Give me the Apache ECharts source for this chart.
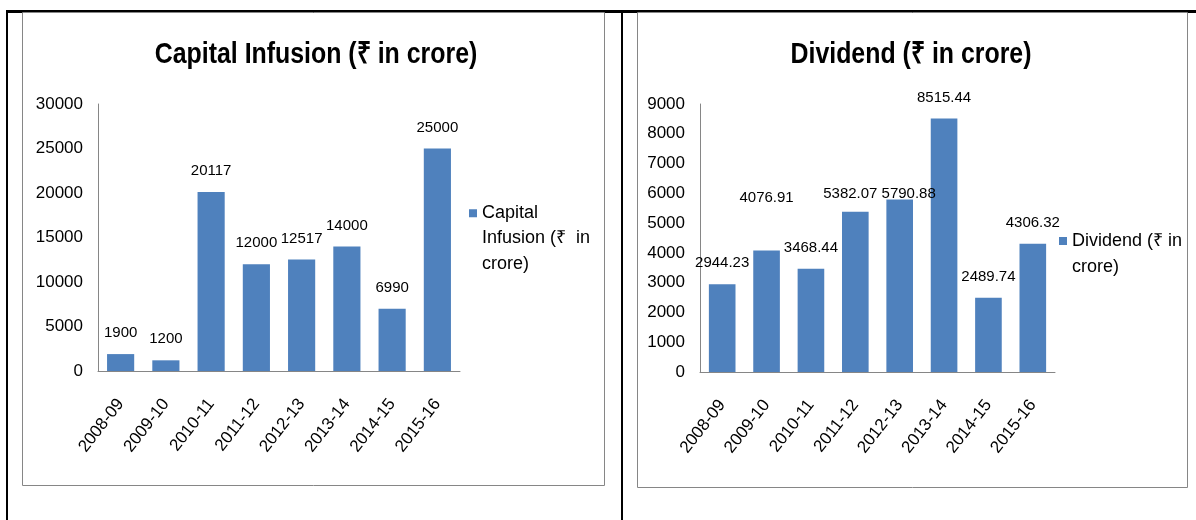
<!DOCTYPE html>
<html>
<head>
<meta charset="utf-8">
<script src="https://cdn.jsdelivr.net/npm/echarts@6/dist/echarts.min.js"></script>
<style>
    html, body { margin: 0; padding: 0; background: #fff; }
    #chart { width: 1196px; height: 520px; }
</style>
</head>
<body>
<div id="chart"></div>
<script>
// years shown on both charts
const years = ['2008-09', '2009-10', '2010-11', '2011-12', '2012-13', '2013-14', '2014-15', '2015-16'];

// capital infusion, rupees crore
const capitalInfusion = [1900, 1200, 20117, 12000, 12517, 14000, 6990, 25000];

// dividend, rupees crore
const dividend = [2944.23, 4076.91, 3468.44, 5382.07, 5790.88, 8515.44, 2489.74, 4306.32];

const capitalName = 'Capital Infusion (₹  in crore)';
const dividendName = 'Dividend (₹ in crore)';

const font = "'Liberation Sans', Arial, sans-serif";
const barColor = '#4f81bd';
const axisColor = '#868686';

// a few dividend labels were dragged around in the original sheet
const dividendLabelShift = [[0, 0], [0, -32], [0, 0], [-5, 3], [9, 15], [0, 0], [0, 0], [0, 0]];

const chart = echarts.init(document.getElementById('chart'));

function yAxisFor(gridIndex, max, interval) {
    return {
        type: 'value',
        gridIndex: gridIndex,
        min: 0,
        max: max,
        interval: interval,
        axisLine: { show: true, lineStyle: { color: axisColor, width: 1 } },
        axisTick: { show: false },
        splitLine: { show: false },
        axisLabel: {
            color: '#000',
            fontFamily: font,
            fontSize: 17,
            margin: 15,
            formatter: (v) => String(v),
        },
    };
}

function xAxisFor(gridIndex) {
    return {
        type: 'category',
        gridIndex: gridIndex,
        data: years,
        axisLine: { show: true, lineStyle: { color: axisColor, width: 1 } },
        axisTick: { show: false },
        axisLabel: { color: '#000', fontFamily: font, fontSize: 17, rotate: 52, margin: 30, interval: 0 },
    };
}

const valueLabel = {
    show: true,
    position: 'top',
    distance: 13,
    color: '#000',
    fontFamily: font,
    fontSize: 15,
    lineHeight: 16,
};

// square sits at the top of a tall transparent box so it lines up with the first text line
function legendIcon(h) {
    return 'path://M0,9h8v8h-8z M0,0h0.01v0.01h-0.01z M0,' + h + 'h0.01v0.01h-0.01z';
}

const titleStyle = { font: 'bold 30px ' + font, fill: '#000', align: 'center', verticalAlign: 'middle' };

const option = {
    backgroundColor: '#fff',
    animation: false,
    graphic: [
        // table lines
        { type: 'rect', shape: { x: 6, y: 10, width: 1190, height: 3 }, style: { fill: '#000' }, silent: true },
        { type: 'rect', shape: { x: 6, y: 10, width: 2, height: 510 }, style: { fill: '#000' }, silent: true },
        { type: 'rect', shape: { x: 621, y: 10, width: 2, height: 510 }, style: { fill: '#000' }, silent: true },
        // chart frames
        { type: 'rect', shape: { x: 22.5, y: 12.5, width: 582, height: 473 }, style: { fill: 'none', stroke: axisColor, lineWidth: 1 }, silent: true },
        { type: 'rect', shape: { x: 637.5, y: 12.5, width: 550, height: 475 }, style: { fill: 'none', stroke: axisColor, lineWidth: 1 }, silent: true },
        // titles (squeezed to match the narrow original face)
        { type: 'text', x: 316, y: 55, scaleX: 0.83, style: Object.assign({ text: 'Capital Infusion (₹ in crore)' }, titleStyle), silent: true },
        { type: 'text', x: 911, y: 55, scaleX: 0.83, style: Object.assign({ text: 'Dividend (₹ in crore)' }, titleStyle), silent: true },
    ],
    legend: [
        {
            data: [capitalName],
            left: 469,
            top: 200,
            padding: 0,
            itemWidth: 8,
            itemHeight: 76,
            icon: legendIcon(76),
            formatter: () => 'Capital\nInfusion (₹  in\ncrore)',
            textStyle: { color: '#000', fontFamily: font, fontSize: 18, lineHeight: 25.5 },
        },
        {
            data: [dividendName],
            left: 1059,
            top: 228,
            padding: 0,
            itemWidth: 8,
            itemHeight: 52,
            icon: legendIcon(52),
            formatter: () => 'Dividend (₹ in\ncrore)',
            textStyle: { color: '#000', fontFamily: font, fontSize: 18, lineHeight: 26 },
        },
    ],
    grid: [
        { left: 98, top: 104, width: 362, height: 267 },
        { left: 700, top: 104, width: 355, height: 268 },
    ],
    xAxis: [xAxisFor(0), xAxisFor(1)],
    yAxis: [yAxisFor(0, 30000, 5000), yAxisFor(1, 9000, 1000)],
    series: [
        {
            name: capitalName,
            type: 'bar',
            xAxisIndex: 0,
            yAxisIndex: 0,
            data: capitalInfusion,
            barCategoryGap: '40%',
            itemStyle: { color: barColor },
            label: valueLabel,
        },
        {
            name: dividendName,
            type: 'bar',
            xAxisIndex: 1,
            yAxisIndex: 1,
            data: dividend.map((v, i) => ({
                value: v,
                label: { offset: dividendLabelShift[i] },
            })),
            barCategoryGap: '40%',
            itemStyle: { color: barColor },
            label: valueLabel,
        },
    ],
};

chart.setOption(option);
</script>
</body>
</html>
